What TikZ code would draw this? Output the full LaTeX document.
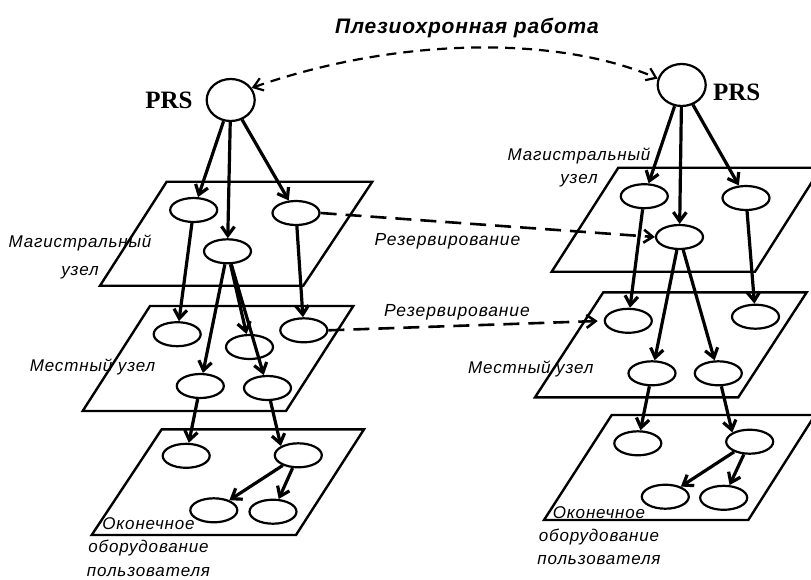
\documentclass[tikz,border=0pt]{standalone}
\usepackage{fontspec}
\setmainfont{Liberation Sans}
\newfontfamily\lblfont[LetterSpace=5]{Liberation Sans}
\newfontfamily\ttlfont[LetterSpace=4]{Liberation Sans}
\newfontfamily\prsfont{Liberation Serif}
\usetikzlibrary{shapes.geometric,arrows.meta}
\begin{document}
\begin{tikzpicture}[x=1pt,y=1pt,
    unit/.style = {draw, ellipse, line width=2.2pt, minimum width=47pt, minimum height=24pt, inner sep=0pt},
    prs/.style = {draw, ellipse, line width=2.2pt, minimum width=48pt, minimum height=42pt, inner sep=0pt},
    prstext/.style = {font=\prsfont\bfseries\fontsize{25}{30}\selectfont, inner sep=0pt, anchor=base},
    plane/.style = {line width=2.4pt, line join=miter},
    link/.style = {line width=3.2pt, -{Straight Barb[length=9pt,width=13pt]}},
    resv/.style = {line width=2.6pt, dash pattern=on 16pt off 9pt, -{Straight Barb[length=9pt,width=13pt]}},
    lbl/.style = {font=\lblfont\itshape\fontsize{17}{23}\selectfont, inner sep=0pt, align=center}]
    \useasboundingbox (0,0) rectangle (811,-579);
    \clip (0,0) rectangle (811,-579);

    % planes
    \draw[plane] (166.7,-181.7) -- (372.3,-181.7) -- (303.3,-285.7) -- (100,-285.7) -- cycle;
    \draw[plane] (150,-306) -- (353.3,-306) -- (286,-411) -- (82.7,-411) -- cycle;
    \draw[plane] (161.7,-429.3) -- (364,-429.3) -- (296,-535) -- (91.7,-535) -- cycle;
    \draw[plane] (618.3,-167.7) -- (821,-167.7) -- (755,-271.7) -- (551.7,-271.7) -- cycle;
    \draw[plane] (603.3,-292.3) -- (806.7,-292.3) -- (738.3,-397.3) -- (535,-397.3) -- cycle;
    \draw[plane] (611.7,-415) -- (815,-415) -- (748.3,-520) -- (544,-520) -- cycle;

    % left
    \node[prs] (lprs) at (230.7,-100) {};
    \node[prstext] (lprstxt) at (169,-108) {PRS};
    \node[unit] (le1) at (193.7,-210) {};
    \node[unit] (le2) at (296,-213) {};
    \node[unit] (le3) at (227.5,-251.3) {};
    \node[unit] (lm1) at (177.2,-334.2) {};
    \node[unit] (lm2) at (249.5,-347) {};
    \node[unit] (lm3) at (303.8,-330.3) {};
    \node[unit] (lm4) at (200.3,-386) {};
    \node[unit] (lm5) at (267.5,-388) {};
    \node[unit] (lb1) at (186.2,-455.8) {};
    \node[unit] (lb2) at (298.3,-455.3) {};
    \node[unit] (lb3) at (213.8,-510.3) {};
    \node[unit] (lb4) at (273,-511.7) {};
    \draw[link] (lprs) -- (le1);
    \draw[link] (lprs) -- (le3);
    \draw[link] (lprs) -- (le2);
    \draw[link] (le1) -- (lm1);
    \draw[link] (le3) -- (lm4);
    \draw[link] (le3) -- (lm2);
    \draw[link] (le3) -- (lm5);
    \draw[link] (le2) -- (lm3);
    \draw[link] (lm4) -- (lb1);
    \draw[link] (lm5) -- (lb2.north west);
    \draw[link] (lb2) -- (lb3);
    \draw[link] (lb2) -- (lb4);

    % right
    \node[prs] (rprs) at (681.7,-85) {};
    \node[prstext] (rprstxt) at (736.7,-100) {PRS};
    \node[unit] (re1) at (644.3,-196.2) {};
    \node[unit] (re2) at (746,-198) {};
    \node[unit] (re3) at (679.5,-237) {};
    \node[unit] (rm1) at (628.3,-320.8) {};
    \node[unit] (rm2) at (755.5,-316.7) {};
    \node[unit] (rm3) at (652,-373.3) {};
    \node[unit] (rm4) at (718.3,-373.3) {};
    \node[unit] (rb1) at (637.8,-443.3) {};
    \node[unit] (rb2) at (749.7,-441.7) {};
    \node[unit] (rb3) at (665.3,-496.7) {};
    \node[unit] (rb4) at (723.7,-497.8) {};
    \draw[link] (rprs) -- (re1);
    \draw[link] (rprs) -- (re3);
    \draw[link] (rprs) -- (re2);
    \draw[link] (re1) -- (rm1);
    \draw[link] (re3) -- (rm3);
    \draw[link] (re3) -- (rm4);
    \draw[link] (re2) -- (rm2);
    \draw[link] (rm3) -- (rb1);
    \draw[link] (rm4) -- (rb2.north west);
    \draw[link] (rb2) -- (rb3);
    \draw[link] (rb2) -- (rb4);

    % links between the two
    \draw[line width=2.2pt, dash pattern=on 10pt off 7pt, {Straight Barb[length=9pt,width=13pt]}-{Straight Barb[length=9pt,width=13pt]}]
        (lprs.30) .. controls (400,-36) and (560,-36) .. (rprs.165);
    \draw[resv] (le2.east) -- (re3.west);
    \draw[resv, shorten >=6pt] (lm3.east) -- (rm1.west);

    % labels
    \node[font=\ttlfont\bfseries\itshape\fontsize{21}{25}\selectfont, inner sep=0pt, anchor=base] (title) at (467,-33) {Плезиохронная работа};
    \node[lbl, font=\lblfont\itshape\fontsize{17.5}{18}\selectfont, anchor=base] (resv1) at (447.5,-245) {Резервирование};
    \node[lbl, font=\lblfont\itshape\fontsize{17.5}{18}\selectfont, anchor=base] (resv2) at (457,-316.5) {Резервирование};
    \node[lbl, anchor=north] (lmag) at (80,-235) {Магистральный\\[5pt]узел};
    \node[lbl, anchor=north] (rmag) at (579,-148) {Магистральный\\узел};
    \node[lbl, anchor=base] (lmest) at (92.5,-371) {Местный узел};
    \node[lbl, anchor=base] (rmest) at (530.8,-373) {Местный узел};
    \node[lbl, anchor=north] (lend) at (148.5,-517) {Оконечное\\[0.5pt]оборудование\\[0.5pt]пользователя};
    \node[lbl, anchor=north] (rend) at (599,-506) {Оконечное\\оборудование\\пользователя};
\end{tikzpicture}
\end{document}
